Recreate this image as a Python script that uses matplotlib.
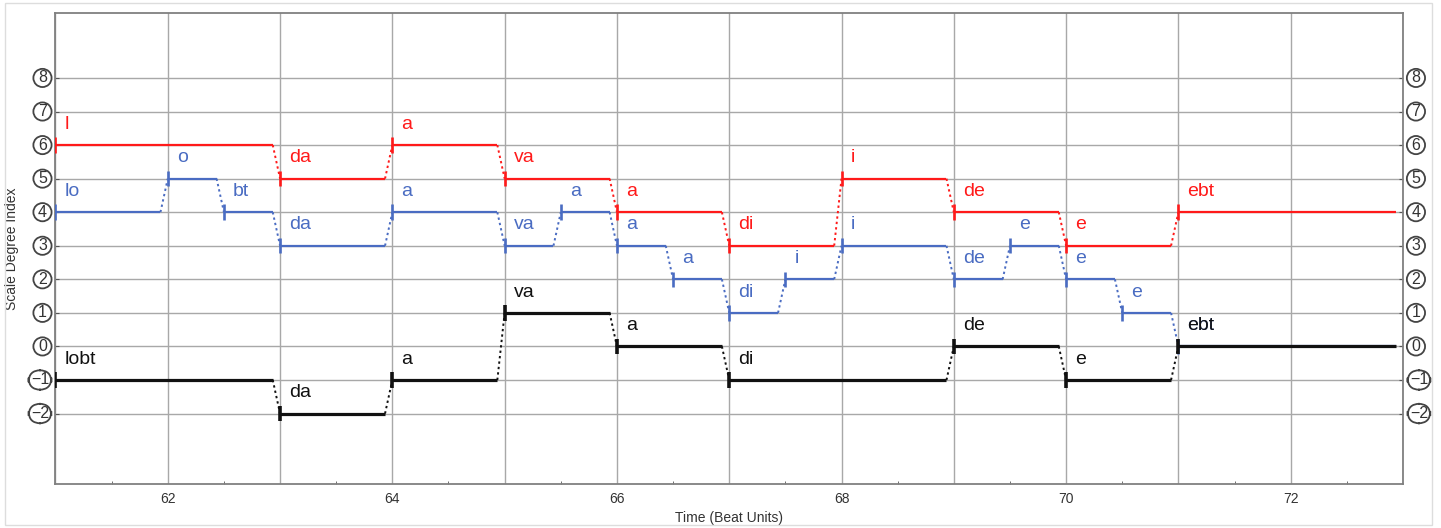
import matplotlib
matplotlib.use("Agg")
import matplotlib.pyplot as plt
from matplotlib.ticker import MultipleLocator, FuncFormatter
from matplotlib.patches import Rectangle
import matplotlib.transforms as mtransforms

plt.rcParams['font.family'] = ['Liberation Sans', 'DejaVu Sans']

# ---- data: (onset, duration, degree, syllable) per voice ----
red_onsets = [61, 63, 64, 65, 66, 67, 68, 69, 70, 71]
red_durs = [2, 1, 1, 1, 1, 1, 1, 1, 1, 2]
red_degrees = [6, 5, 6, 5, 4, 3, 5, 4, 3, 4]
red_syll = ["l", "da", "a", "va", "a", "di", "i", "de", "e", "ebt"]

blue_onsets = [61, 62, 62.5, 63, 64, 65, 65.5, 66, 66.5, 67, 67.5, 68, 69, 69.5, 70, 70.5, 71]
blue_durs = [1, 0.5, 0.5, 1, 1, 0.5, 0.5, 0.5, 0.5, 0.5, 0.5, 1, 0.5, 0.5, 0.5, 0.5, 2]
blue_degrees = [4, 5, 4, 3, 4, 3, 4, 3, 2, 1, 2, 3, 2, 3, 2, 1, 0]
blue_syll = ["lo", "o", "bt", "da", "a", "va", "a", "a", "a", "di", "i", "i", "de", "e", "e", "e", "ebt"]

black_onsets = [61, 63, 64, 65, 66, 67, 69, 70, 71]
black_durs = [2, 1, 1, 1, 1, 2, 1, 1, 2]
black_degrees = [-1, -2, -1, 1, 0, -1, 0, -1, 0]
black_syll = ["lobt", "da", "a", "va", "a", "di", "de", "e", "ebt"]

ytick_vals = [-2, -1, 0, 1, 2, 3, 4, 5, 6, 7, 8]
xtick_label_vals = [62, 64, 66, 68, 70, 72]

RED = "#ff1a1a"
BLUE = "#4a6cc2"
BLACK = "#111111"

fig = plt.figure(figsize=(14.41, 5.28), dpi=100)
ax = fig.add_axes([0.0385, 0.0833, 0.9351, 0.8930])
ax.set_xlim(61, 73)
ax.set_ylim(-4.1, 9.95)

GAP = 0.065


def draw_voice(onsets, durs, degs, sylls, color, lw, z):
    n = len(onsets)
    for i in range(n):
        x0 = onsets[i]
        x1 = onsets[i] + durs[i] - GAP
        y = degs[i]
        ax.plot([x0, x1], [y, y], color=color, lw=lw, solid_capstyle='butt', zorder=z)
        ax.plot([x0, x0], [y - 0.23, y + 0.23], color=color, lw=lw + 0.3,
                solid_capstyle='butt', zorder=z)
        if i + 1 < n:
            ax.plot([x1, onsets[i + 1]], [y, degs[i + 1]], color=color, lw=1.4,
                    linestyle=(0, (1.2, 1.6)), zorder=z)
        ax.text(x0 + 0.08, y + 0.62, sylls[i], color=color, fontsize=14,
                ha='left', va='center', zorder=z + 1)


draw_voice(blue_onsets, blue_durs, blue_degrees, blue_syll, BLUE, 1.6, 3)
draw_voice(red_onsets, red_durs, red_degrees, red_syll, RED, 1.6, 4)
draw_voice(black_onsets, black_durs, black_degrees, black_syll, BLACK, 2.3, 5)

# grid / ticks
ax.xaxis.set_major_locator(MultipleLocator(1))
ax.xaxis.set_minor_locator(MultipleLocator(0.5))
ax.xaxis.set_major_formatter(FuncFormatter(
    lambda v, p: f"{int(round(v))}" if int(round(v)) in xtick_label_vals else ""))
ax.set_yticks(ytick_vals)
ax.set_yticklabels([])
ax.grid(True, which='major', color='#a8a8a8', lw=1.0, zorder=0)
ax.tick_params(axis='x', which='major', direction='in', length=0, labelsize=10,
               pad=6, colors='#333333')
ax.tick_params(axis='x', which='minor', direction='in', length=2, color='#555555')
ax.tick_params(axis='y', which='major', direction='in', length=3, color='#555555',
               right=True)
ax.tick_params(axis='x', labelcolor='#333333')
for s in ax.spines.values():
    s.set_color('#808080')
    s.set_linewidth(1.3)

# circled y-tick labels on both sides
trans_l = mtransforms.blended_transform_factory(ax.transAxes, ax.transData)
for v in ytick_vals:
    lab = str(v).replace('-', '\u2212')
    if v < 0:
        bs = "round,pad=0.14,rounding_size=0.75"
        offs = [(0, -15.5), (1, 16)]
    else:
        bs = "circle,pad=0.1"
        offs = [(0, -13), (1, 13)]
    for xa, off in offs:
        ax.annotate(lab, xy=(xa, v), xycoords=trans_l, xytext=(off, 0),
                    textcoords='offset pixels', ha='center', va='center',
                    fontsize=11.5, color='#333333', annotation_clip=False,
                    bbox=dict(boxstyle=bs, fc='white', ec='#444444', lw=1.3))

ax.set_xlabel("Time (Beat Units)", fontsize=10, color='#333333', labelpad=3.5)
ax.set_ylabel("Scale Degree Index", fontsize=10, color='#333333', labelpad=23)

fig.patches.append(Rectangle((5 / 1441, 3 / 528), 1427 / 1441, 522 / 528,
                             transform=fig.transFigure, fill=False,
                             ec='#dddddd', lw=1.0))

fig.savefig("out.png", dpi=100)
